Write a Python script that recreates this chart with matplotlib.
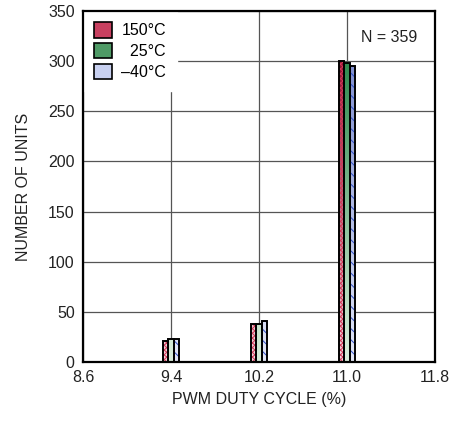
import numpy as np
import matplotlib
matplotlib.use("Agg")
import matplotlib.pyplot as plt
from matplotlib.colors import LinearSegmentedColormap
from matplotlib.patches import Patch

# ---- data ----
duty_cycle = [9.4, 10.2, 11.0]
temps = ["150°C", "  25°C", "–40°C"]
units_150 = [21, 38, 300]
units_25 = [23, 38, 298]
units_m40 = [23, 41, 295]
x_ticks = [8.6, 9.4, 10.2, 11.0, 11.8]
x_ticklabels = ["8.6", "9.4", "10.2", "11.0", "11.8"]
y_ticks = [0, 50, 100, 150, 200, 250, 300, 350]

plt.rcParams["font.family"] = ["Liberation Sans", "DejaVu Sans"]
plt.rcParams["hatch.linewidth"] = 0.7

fig = plt.figure(figsize=(4.66, 4.21), dpi=100)
ax = fig.add_axes([83/466, 59/421, 352/466, 351/421])

series = [units_150, units_25, units_m40]
pale = ["#f6d6dc", "#dcefdc", "#e4e8f8"]
dark = ["#8c0f2e", "#2f8a4e", "#7f8ed0"]
hatch_col = ["#d03858", None, "#3050c8"]
hatches = ["xxxxxxx", None, "\\\\\\"]
width = 0.05
offsets = [-0.05, 0.0, 0.05]

ax.set_xlim(8.6, 11.8)
ax.set_ylim(0, 350)
ax.set_xticks(x_ticks)
ax.set_xticklabels(x_ticklabels)
ax.set_yticks(y_ticks)
ax.tick_params(length=0, labelsize=11.5, colors="#222222", pad=6)
ax.grid(True, color="#555555", linewidth=0.9)
ax.set_axisbelow(True)
for s in ax.spines.values():
    s.set_linewidth(1.6)
    s.set_color("black")
    s.set_zorder(6)

grad = np.linspace(0, 1, 256).reshape(-1, 1)
for i, vals in enumerate(series):
    cmap = LinearSegmentedColormap.from_list(f"g{i}", [pale[i], dark[i]])
    xs = [d + offsets[i] for d in duty_cycle]
    bars = ax.bar(xs, vals, width=width, facecolor="none", edgecolor="black",
                  linewidth=1.4, zorder=3)
    for b in bars:
        x0 = b.get_x()
        im = ax.imshow(grad, cmap=cmap, aspect="auto", origin="lower",
                       extent=[x0, x0 + width, 0, 300], zorder=2.5)
        im.set_clip_path(b)
    if hatches[i]:
        ax.bar(xs, vals, width=width, facecolor="none", edgecolor=hatch_col[i],
               hatch=hatches[i], linewidth=0, zorder=2.8)
ax.set_xlim(8.6, 11.8)
ax.set_ylim(0, 350)

ax.set_xlabel("PWM DUTY CYCLE (%)", fontsize=11.5, color="#222222", labelpad=5)
ax.set_ylabel("NUMBER OF UNITS", fontsize=11.5, color="#222222", labelpad=12)

handle_cols = ["#c84060", "#4f9a66", "#c8d0f0"]
handles = [Patch(facecolor=handle_cols[i], edgecolor="black", linewidth=1.2)
           for i in range(3)]
leg = ax.legend(handles, temps, loc="upper left", frameon=True, fontsize=11.5,
                handlelength=1.1, handleheight=1.1, handletextpad=0.6,
                borderaxespad=0.0, borderpad=0.7, labelspacing=0.3,
                fancybox=False)
leg.get_frame().set_facecolor("white")
leg.get_frame().set_edgecolor("white")
leg.get_frame().set_alpha(1)
leg.set_zorder(5)

ax.text(0.87, 0.925, "N = 359", transform=ax.transAxes, ha="center", va="center",
        fontsize=11.5, color="#222222")

fig.savefig("out.png", dpi=100)
